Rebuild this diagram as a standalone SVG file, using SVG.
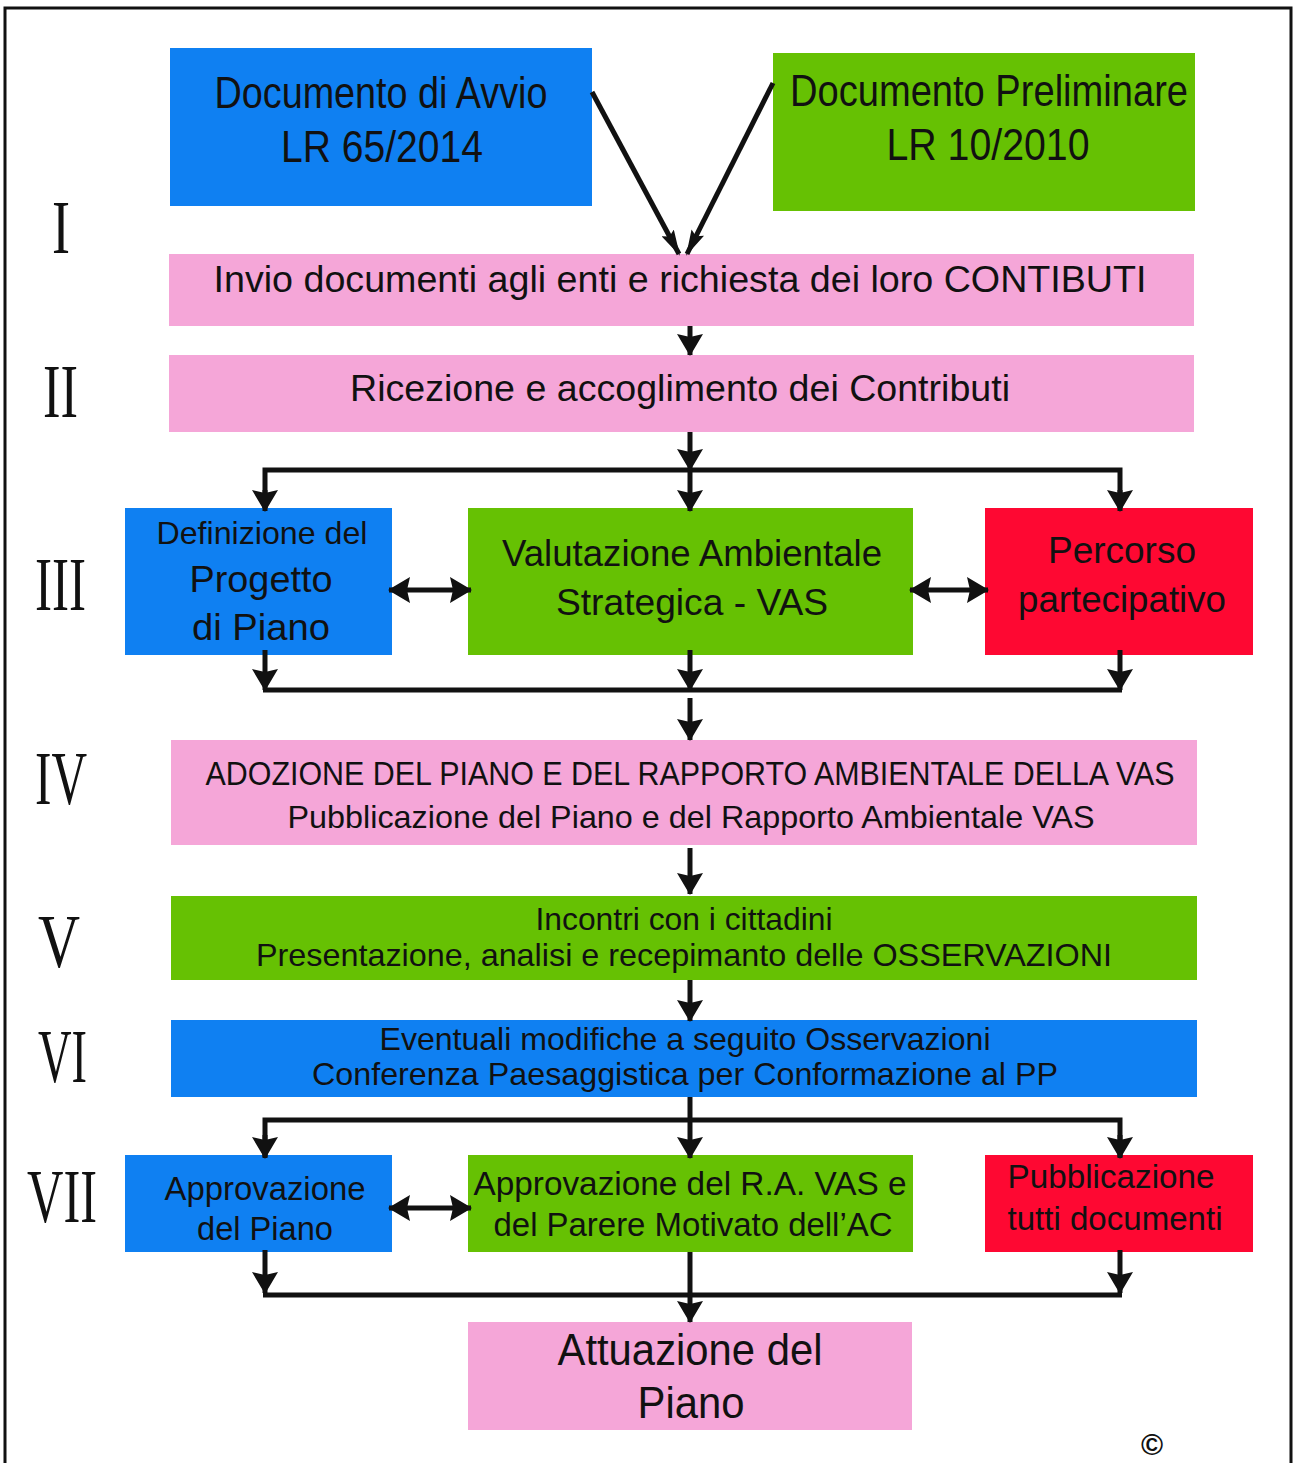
<svg xmlns="http://www.w3.org/2000/svg" width="1295" height="1463" viewBox="0 0 1295 1463">
<style>
.blue{fill:#0f80f2}
.green{fill:#66c103}
.red{fill:#fe0832}
.pink{fill:#f5a6d8}
.t{font-family:"Liberation Sans",Arial,sans-serif;fill:#111;text-anchor:middle}
.rn{font-family:"Liberation Serif","Times New Roman",serif;fill:#111;font-size:76px}
.c{fill:none;stroke:#111;stroke-width:5}
</style>
<defs>
<marker id="ah" markerUnits="userSpaceOnUse" markerWidth="22" markerHeight="26" viewBox="0 0 22 26" refX="21" refY="13" orient="auto-start-reverse">
<path d="M0,0 L22,13 L0,26 L3,13 Z" fill="#111"/>
</marker>
<marker id="ahn" markerUnits="userSpaceOnUse" markerWidth="26" markerHeight="14" viewBox="0 0 26 14" refX="24" refY="7" orient="auto">
<path d="M0,0 L26,7 L0,14 L4,7 Z" fill="#111"/>
</marker>
</defs>
<rect width="1295" height="1463" fill="#fff"/>
<path d="M5,1463 V8 H1291 V1463" fill="none" stroke="#111" stroke-width="3"/>

<g id="roman">
<text class="rn" x="61" y="253" text-anchor="middle" textLength="18" lengthAdjust="spacingAndGlyphs">I</text>
<text class="rn" x="43" y="417" textLength="35" lengthAdjust="spacingAndGlyphs">II</text>
<text class="rn" x="35" y="610" textLength="51" lengthAdjust="spacingAndGlyphs">III</text>
<text class="rn" x="35" y="804" textLength="52" lengthAdjust="spacingAndGlyphs">IV</text>
<text class="rn" x="38" y="967" textLength="42" lengthAdjust="spacingAndGlyphs">V</text>
<text class="rn" x="38" y="1082" textLength="49" lengthAdjust="spacingAndGlyphs">VI</text>
<text class="rn" x="27" y="1222" textLength="70" lengthAdjust="spacingAndGlyphs">VII</text>
</g>

<g id="n-avvio">
<rect class="blue" x="170" y="48" width="422" height="158"/>
<text class="t" x="381" y="108" font-size="44" textLength="333" lengthAdjust="spacingAndGlyphs">Documento di Avvio</text>
<text class="t" x="382" y="162" font-size="44" textLength="202" lengthAdjust="spacingAndGlyphs">LR 65/2014</text>
</g>
<g id="n-preliminare">
<rect class="green" x="773" y="53" width="422" height="158"/>
<text class="t" x="989" y="106" font-size="44" textLength="398" lengthAdjust="spacingAndGlyphs">Documento Preliminare</text>
<text class="t" x="988" y="160" font-size="44" textLength="203" lengthAdjust="spacingAndGlyphs">LR 10/2010</text>
</g>
<g id="n-invio">
<rect class="pink" x="169" y="254" width="1025" height="72"/>
<text class="t" x="680" y="292" font-size="36" textLength="933" lengthAdjust="spacingAndGlyphs">Invio documenti agli enti e richiesta dei loro CONTIBUTI</text>
</g>
<g id="n-ricezione">
<rect class="pink" x="169" y="355" width="1025" height="77"/>
<text class="t" x="680" y="401" font-size="36" textLength="660" lengthAdjust="spacingAndGlyphs">Ricezione e accoglimento dei Contributi</text>
</g>
<g id="n-definizione">
<rect class="blue" x="125" y="508" width="267" height="147"/>
<text class="t" x="262" y="544" font-size="32" textLength="211" lengthAdjust="spacingAndGlyphs">Definizione del</text>
<text class="t" x="261" y="592" font-size="37" textLength="143" lengthAdjust="spacingAndGlyphs">Progetto</text>
<text class="t" x="261" y="640" font-size="37" textLength="138" lengthAdjust="spacingAndGlyphs">di Piano</text>
</g>
<g id="n-vas">
<rect class="green" x="468" y="508" width="445" height="147"/>
<text class="t" x="692" y="566" font-size="37" textLength="380" lengthAdjust="spacingAndGlyphs">Valutazione Ambientale</text>
<text class="t" x="692" y="615" font-size="37" textLength="272" lengthAdjust="spacingAndGlyphs">Strategica - VAS</text>
</g>
<g id="n-percorso">
<rect class="red" x="985" y="508" width="268" height="147"/>
<text class="t" x="1122" y="563" font-size="37" textLength="148" lengthAdjust="spacingAndGlyphs">Percorso</text>
<text class="t" x="1122" y="612" font-size="37" textLength="208" lengthAdjust="spacingAndGlyphs">partecipativo</text>
</g>
<g id="n-adozione">
<rect class="pink" x="171" y="740" width="1026" height="105"/>
<text class="t" x="690" y="785" font-size="34" textLength="969" lengthAdjust="spacingAndGlyphs">ADOZIONE DEL PIANO E DEL RAPPORTO AMBIENTALE DELLA VAS</text>
<text class="t" x="691" y="828" font-size="32" textLength="807" lengthAdjust="spacingAndGlyphs">Pubblicazione del Piano e del Rapporto Ambientale VAS</text>
</g>
<g id="n-incontri">
<rect class="green" x="171" y="896" width="1026" height="84"/>
<text class="t" x="684" y="930" font-size="32" textLength="297" lengthAdjust="spacingAndGlyphs">Incontri con i cittadini</text>
<text class="t" x="684" y="966" font-size="32" textLength="856" lengthAdjust="spacingAndGlyphs">Presentazione, analisi e recepimanto delle OSSERVAZIONI</text>
</g>
<g id="n-eventuali">
<rect class="blue" x="171" y="1020" width="1026" height="77"/>
<text class="t" x="685" y="1050" font-size="32" textLength="611" lengthAdjust="spacingAndGlyphs">Eventuali modifiche a seguito Osservazioni</text>
<text class="t" x="685" y="1085" font-size="32" textLength="746" lengthAdjust="spacingAndGlyphs">Conferenza Paesaggistica per Conformazione al PP</text>
</g>
<g id="n-approvazione-piano">
<rect class="blue" x="125" y="1155" width="267" height="97"/>
<text class="t" x="265" y="1200" font-size="34" textLength="201" lengthAdjust="spacingAndGlyphs">Approvazione</text>
<text class="t" x="265" y="1240" font-size="34" textLength="136" lengthAdjust="spacingAndGlyphs">del Piano</text>
</g>
<g id="n-approvazione-ra">
<rect class="green" x="468" y="1155" width="445" height="97"/>
<text class="t" x="690" y="1195" font-size="34" textLength="433" lengthAdjust="spacingAndGlyphs">Approvazione del R.A. VAS e</text>
<text class="t" x="693" y="1236" font-size="34" textLength="399" lengthAdjust="spacingAndGlyphs">del Parere Motivato dell’AC</text>
</g>
<g id="n-pubblicazione">
<rect class="red" x="985" y="1155" width="268" height="97"/>
<text class="t" x="1111" y="1188" font-size="34" textLength="207" lengthAdjust="spacingAndGlyphs">Pubblicazione</text>
<text class="t" x="1115" y="1230" font-size="34" textLength="215" lengthAdjust="spacingAndGlyphs">tutti documenti</text>
</g>
<g id="n-attuazione">
<rect class="pink" x="468" y="1322" width="444" height="108"/>
<text class="t" x="690" y="1365" font-size="44" textLength="265" lengthAdjust="spacingAndGlyphs">Attuazione del</text>
<text class="t" x="691" y="1418" font-size="44" textLength="107" lengthAdjust="spacingAndGlyphs">Piano</text>
</g>

<g id="connectors">
<line class="c" x1="592" y1="92" x2="679" y2="254" marker-end="url(#ahn)"/>
<line class="c" x1="773" y1="83" x2="687" y2="254" marker-end="url(#ahn)"/>
<line class="c" x1="690" y1="326" x2="690" y2="355" marker-end="url(#ah)"/>
<line class="c" x1="690" y1="432" x2="690" y2="470" marker-end="url(#ah)"/>
<path class="c" d="M265,508 V470 H1120 V508"/>
<line class="c" x1="265" y1="490" x2="265" y2="511" marker-end="url(#ah)"/>
<line class="c" x1="1120" y1="490" x2="1120" y2="511" marker-end="url(#ah)"/>
<line class="c" x1="690" y1="470" x2="690" y2="511" marker-end="url(#ah)"/>
<line class="c" x1="389" y1="590" x2="471" y2="590" marker-start="url(#ah)" marker-end="url(#ah)"/>
<line class="c" x1="910" y1="590" x2="988" y2="590" marker-start="url(#ah)" marker-end="url(#ah)"/>
<line class="c" x1="265" y1="650" x2="265" y2="690" marker-end="url(#ah)"/>
<line class="c" x1="690" y1="650" x2="690" y2="690" marker-end="url(#ah)"/>
<line class="c" x1="1120" y1="650" x2="1120" y2="690" marker-end="url(#ah)"/>
<line class="c" x1="263" y1="690" x2="1122" y2="690"/>
<line class="c" x1="690" y1="698" x2="690" y2="740" marker-end="url(#ah)"/>
<line class="c" x1="690" y1="848" x2="690" y2="894" marker-end="url(#ah)"/>
<line class="c" x1="690" y1="980" x2="690" y2="1021" marker-end="url(#ah)"/>
<line class="c" x1="690" y1="1097" x2="690" y2="1158" marker-end="url(#ah)"/>
<path class="c" d="M265,1157 V1120 H1120 V1157"/>
<line class="c" x1="265" y1="1135" x2="265" y2="1158" marker-end="url(#ah)"/>
<line class="c" x1="1120" y1="1135" x2="1120" y2="1158" marker-end="url(#ah)"/>
<line class="c" x1="389" y1="1208" x2="471" y2="1208" marker-start="url(#ah)" marker-end="url(#ah)"/>
<line class="c" x1="265" y1="1250" x2="265" y2="1293" marker-end="url(#ah)"/>
<line class="c" x1="1120" y1="1250" x2="1120" y2="1293" marker-end="url(#ah)"/>
<line class="c" x1="263" y1="1295" x2="1122" y2="1295"/>
<line class="c" x1="690" y1="1252" x2="690" y2="1322" marker-end="url(#ah)"/>
</g>
<text class="t" x="1152" y="1455" font-size="30" font-weight="bold">©</text>
</svg>
